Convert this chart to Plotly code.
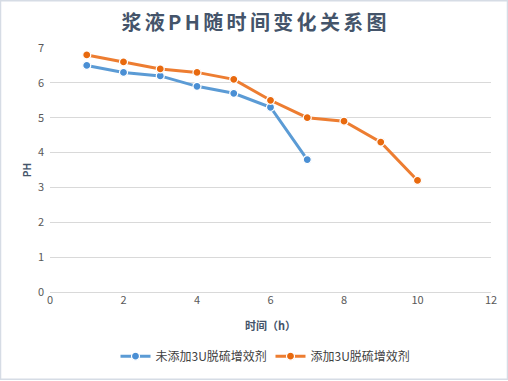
import plotly.graph_objects as go

x_blue = [1, 2, 3, 4, 5, 6, 7]
y_blue = [6.5, 6.3, 6.2, 5.9, 5.7, 5.3, 3.8]
x_orange = [1, 2, 3, 4, 5, 6, 7, 8, 9, 10]
y_orange = [6.8, 6.6, 6.4, 6.3, 6.1, 5.5, 5.0, 4.9, 4.3, 3.2]
name_blue = "未添加3U脱硫增效剂"
name_orange = "添加3U脱硫增效剂"
title_text = "浆液PH随时间变化关系图"
x_ticks = [0, 2, 4, 6, 8, 10, 12]
y_ticks = [0, 1, 2, 3, 4, 5, 6, 7]

font_cjk = "Noto Sans CJK SC, Microsoft YaHei, sans-serif"
tick_color = "#595959"

fig = go.Figure()
fig.add_trace(go.Scatter(
    x=x_blue, y=y_blue, name=name_blue, mode="lines+markers",
    line=dict(color="#5B9BD5", width=3),
    marker=dict(size=8, color="#4A8FD4", line=dict(color="white", width=1.2)),
))
fig.add_trace(go.Scatter(
    x=x_orange, y=y_orange, name=name_orange, mode="lines+markers",
    line=dict(color="#ED7D31", width=3),
    marker=dict(size=8, color="#E8690E", line=dict(color="white", width=1.2)),
))

spaced_title = "\u2006".join(title_text)

fig.update_layout(
    width=508, height=381,
    margin=dict(l=50, r=17, t=48, b=88),
    paper_bgcolor="white", plot_bgcolor="white",
    title=dict(text="<b>" + spaced_title + "</b>", x=0.5, xanchor="center",
               y=0.94, yanchor="middle",
               font=dict(family=font_cjk, size=20, color="#44546A")),
    font=dict(family=font_cjk, color=tick_color, size=11),
    showlegend=True,
    legend=dict(orientation="h", x=0.5, xanchor="center", y=-0.258, yanchor="middle",
                font=dict(size=12, color="#404040"), itemwidth=30,
                entrywidth=110, tracegroupgap=0),
    xaxis=dict(range=[0, 12], tickvals=x_ticks, showgrid=False, zeroline=False,
               showline=False, ticks="", tickfont=dict(size=11, color=tick_color),
               title=dict(text="<b>时间（h）</b>", font=dict(size=11, color="#44546A"),
                          standoff=16)),
    yaxis=dict(range=[0, 7], tickvals=y_ticks, showgrid=True, gridcolor="#D9D9D9",
               gridwidth=1, zeroline=True, zerolinecolor="#D9D9D9", zerolinewidth=1,
               showline=False, ticks="", ticklabelstandoff=5,
               tickfont=dict(size=11, color=tick_color),
               title=dict(text="<b>PH</b>", font=dict(size=10, color="#44546A"),
                          standoff=4)),
    shapes=[dict(type="rect", xref="paper", yref="paper",
                 x0=-49.5 / 441, x1=1 + 16.5 / 441,
                 y0=-87.5 / 245, y1=1 + 47.5 / 245,
                 line=dict(color="#D6DCE5", width=1.5), fillcolor="rgba(0,0,0,0)",
                 layer="below")],
)

fig.write_html("out.html", config={"displayModeBar": False},
               post_script="document.body.style.margin='0';")
